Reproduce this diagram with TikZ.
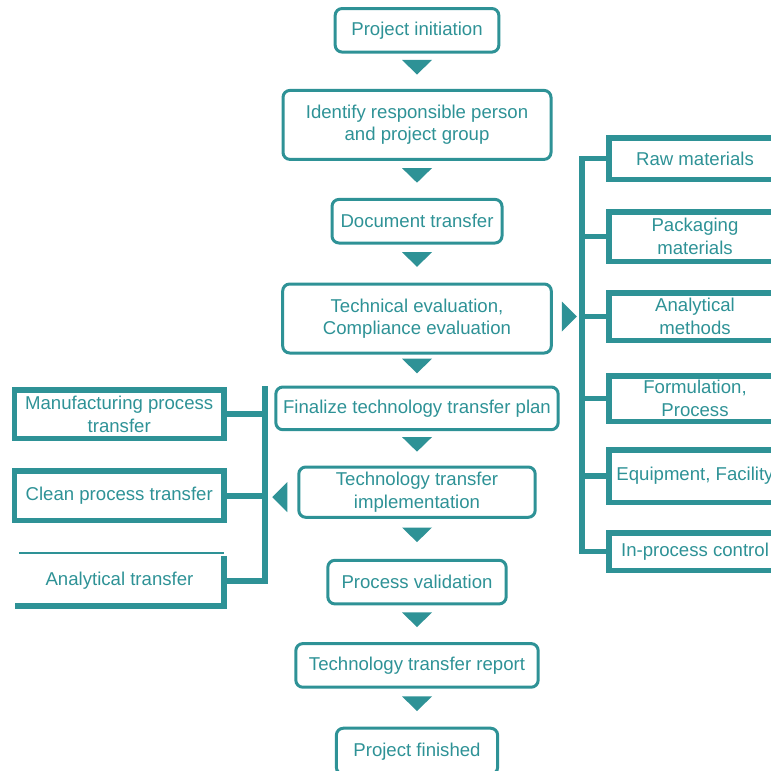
\documentclass[tikz,border=0pt]{standalone}
\usepackage{fontspec}
\setmainfont{Liberation Sans}
\usetikzlibrary{positioning,calc}
\definecolor{flowteal}{RGB}{46,146,150}
\tikzset{
    % Define style for the main process boxes
    flowbox/.style={
           rectangle,
           rounded corners=7pt,
           draw=flowteal, line width=3pt,
           text=flowteal,
           inner sep=0pt,
           align=center},
    % Define style for the side boxes
    sidebox/.style={
           rectangle,
           draw=flowteal, line width=5.5pt,
           text=flowteal,
           inner sep=0pt,
           align=center},
    % Box without frame
    openbox/.style={
           text=flowteal,
           inner sep=0pt,
           align=center},
    % Define style for the bracket lines
    bracket/.style={
           draw=flowteal, line width=5.5pt},
    % Define the filled triangles
    downtri/.pic={\fill[flowteal] (-15,-7.3) -- (15,-7.3) -- (0,7.3) -- cycle;},
    righttri/.pic={\fill[flowteal] (-7.5,-15) -- (-7.5,15) -- (7.5,0) -- cycle;},
    lefttri/.pic={\fill[flowteal] (7.5,-15) -- (7.5,15) -- (-7.5,0) -- cycle;}
}

\begin{document}
\begin{tikzpicture}[x=1pt,y=-1pt,font=\fontsize{18.6}{22.5}\selectfont]
  \useasboundingbox (0,0) rectangle (771,771);
  % main column
  \node[flowbox, minimum width=163.7pt, minimum height=43.6pt] (init) at (417,30.3) {Project initiation};
  \node[flowbox, minimum width=268pt, minimum height=69pt] (ident) [below=35.3pt of init] {Identify responsible person\\and project group};
  \node[flowbox, minimum width=170pt, minimum height=43.6pt] (doc) [below=37pt of ident] {Document transfer};
  \node[flowbox, minimum width=268.6pt, minimum height=69pt] (tech) [below=38pt of doc] {Technical evaluation,\\Compliance evaluation};
  \node[flowbox, minimum width=282.3pt, minimum height=42.7pt] (final) [below=31pt of tech] {Finalize technology transfer plan};
  \node[flowbox, minimum width=236.4pt, minimum height=50.3pt] (impl) [below=34.3pt of final] {Technology transfer\\implementation};
  \node[flowbox, minimum width=178.3pt, minimum height=43.6pt] (valid) [below=40pt of impl] {Process validation};
  \node[flowbox, minimum width=242.3pt, minimum height=43.6pt] (report) [below=36.7pt of valid] {Technology transfer report};
  \node[flowbox, minimum width=161.3pt, minimum height=46pt] (finish) [below=38pt of report] {Project finished};
  \foreach \a/\b in {init/ident,ident/doc,doc/tech,tech/final,final/impl,impl/valid,valid/report,report/finish}
    \pic at ($(\a.south)!0.5!(\b.north)+(0,-4)$) {downtri};

  % right side
  \node[sidebox, minimum width=172.5pt, minimum height=41.5pt] (raw) at (695,158.5) {Raw materials};
  \node[sidebox, minimum width=172.5pt, minimum height=49.5pt] (pack) at (695,236.5) {Packaging\\materials};
  \node[sidebox, minimum width=172.5pt, minimum height=47.5pt] (meth) at (695,316.5) {Analytical\\methods};
  \node[sidebox, minimum width=172.5pt, minimum height=45.5pt] (form) at (695,398.5) {Formulation,\\Process};
  \node[sidebox, minimum width=172.5pt, minimum height=52.5pt] (equip) at (695,476) {Equipment, Facility};
  \node[sidebox, minimum width=172.5pt, minimum height=37.5pt] (ipc) at (695,551.5) {In-process control};
  \draw[bracket] (raw.west) -- ++(-24,0) |- (ipc.west);
  \foreach \b in {pack,meth,form,equip}
    \draw[bracket] (\b.west) -- ++(-24,0);
  \pic at ($(tech.east)+(16.5,-2)$) {righttri};

  % left side
  \node[sidebox, minimum width=209.5pt, minimum height=48.2pt] (manuf) at (119.2,414.2) {Manufacturing process\\transfer};
  \node[sidebox, minimum width=209.5pt, minimum height=49.5pt] (clean) at (119.2,495.8) {Clean process transfer};
  \node[openbox, minimum width=209pt, minimum height=50pt] (anal) at (119.5,581) {Analytical transfer};
  \draw[bracket] (anal.north east) -- (anal.south east) -- (anal.south west);
  \draw[flowteal, line width=1.8pt] ([shift={(4,-3)}]anal.north west) -- ([shift={(0,-3)}]anal.north east);
  \coordinate (ltop) at (265,386);
  \draw[bracket] (ltop) |- (anal.east);
  \draw[bracket] (manuf.east) -- (manuf.east -| ltop);
  \draw[bracket] (clean.east) -- (clean.east -| ltop);
  \pic at ($(impl.west)+(-17.5,5)$) {lefttri};
\end{tikzpicture}
\end{document}
